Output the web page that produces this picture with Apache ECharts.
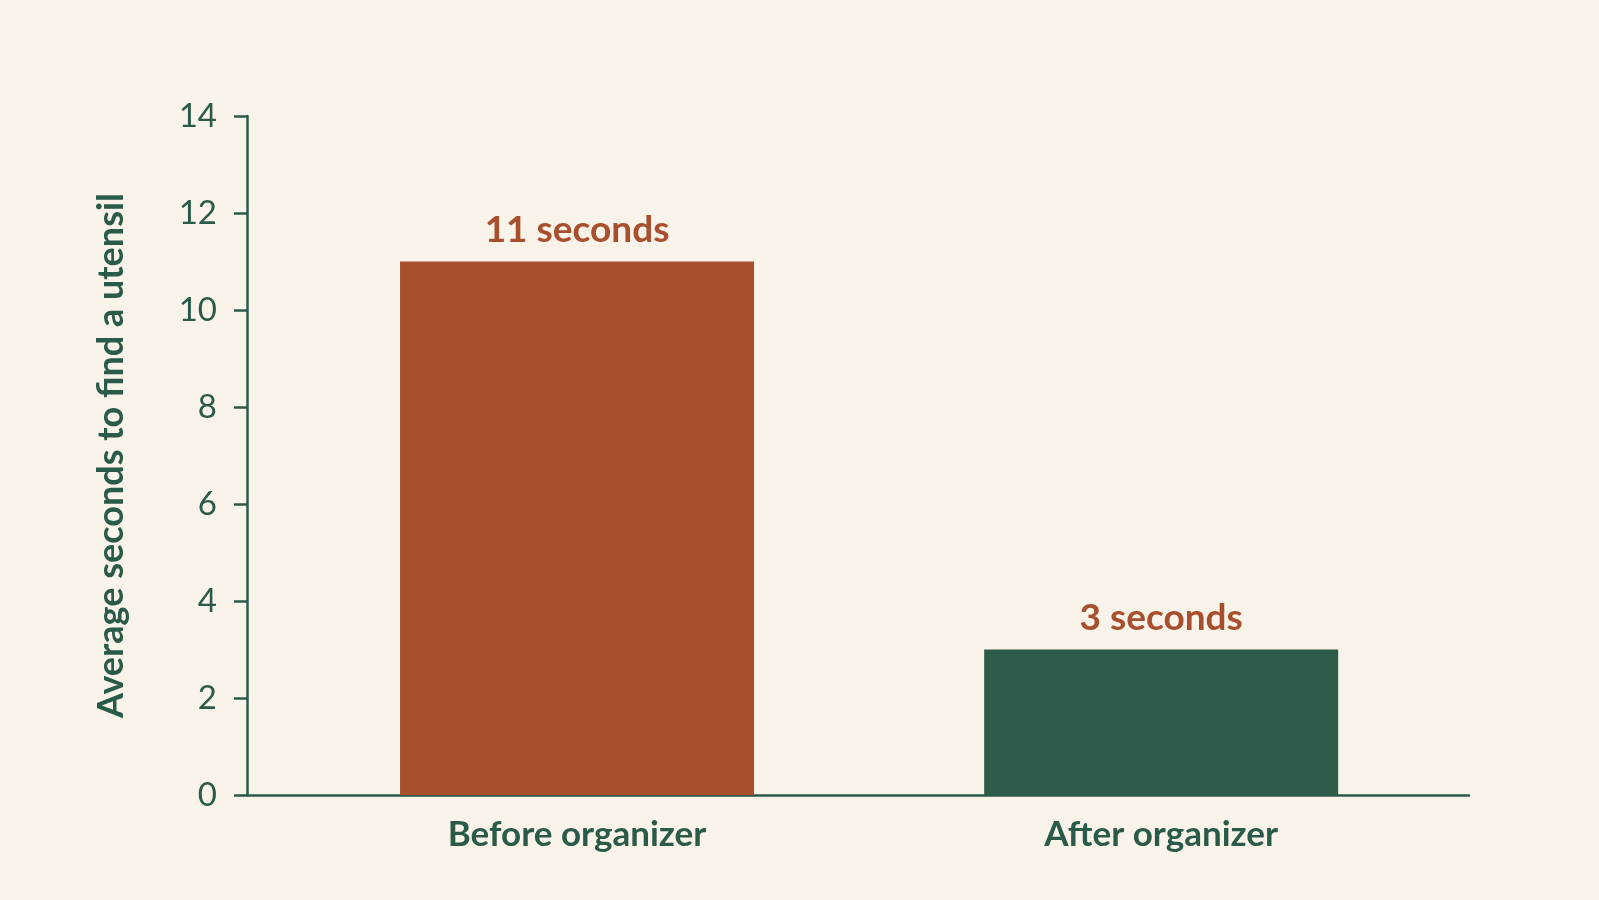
<!DOCTYPE html>
<html>
<head>
<meta charset="utf-8">
<title>Utensil search time</title>
<script src="https://cdn.jsdelivr.net/npm/echarts@6/dist/echarts.min.js"></script>
<style>
  html, body { margin: 0; padding: 0; background: #faf3ea; }
  #chart { width: 1599px; height: 900px; }
</style>
</head>
<body>
<div id="chart"></div>
<script>
// data
const categories = ['Before organizer', 'After organizer'];
const seconds = [11, 3];
const barLabels = ['11 seconds', '3 seconds'];
const barColors = ['#a84f2e', '#2f5b4b'];
const yTicks = [0, 2, 4, 6, 8, 10, 12, 14];

const green = '#2a5a48';
const rust = '#a84f2e';

const chart = echarts.init(document.getElementById('chart'));

chart.setOption({
    backgroundColor: '#faf3ea',
    animation: false,
    textStyle: { fontFamily: 'Lato' },
    grid: {
        left: 247,
        right: 130,
        top: 116,
        bottom: 105
    },
    xAxis: {
        type: 'value',
        min: -0.565,
        max: 1.527,
        splitLine: { show: false },
        axisTick: { show: false },
        axisLine: { show: true, lineStyle: { color: green, width: 2.5 } },
        axisLabel: {
            customValues: categories.map((c, i) => i),
            formatter: (v) => categories[v] || '',
            color: green,
            fontSize: 35,
            fontWeight: 'bold',
            margin: 22
        }
    },
    yAxis: {
        type: 'value',
        min: yTicks[0],
        max: yTicks[yTicks.length - 1],
        interval: 2,
        name: 'Average seconds to find a utensil',
        nameLocation: 'middle',
        nameGap: 118,
        nameTextStyle: {
            color: green,
            fontSize: 36,
            fontWeight: 'bold'
        },
        splitLine: { show: false },
        axisLine: { show: true, onZero: false, lineStyle: { color: green, width: 2.5 } },
        axisTick: { show: true, length: 13, lineStyle: { color: green, width: 2.5 } },
        axisLabel: {
            color: green,
            fontSize: 33,
            margin: 30
        }
    },
    series: [{
        type: 'bar',
        barWidth: 354,
        data: seconds.map((v, i) => ({
            value: [i, v],
            itemStyle: { color: barColors[i] },
            label: { formatter: barLabels[i] }
        })),
        label: {
            show: true,
            position: 'top',
            distance: 13,
            color: rust,
            fontSize: 37,
            fontWeight: 'bold'
        }
    }]
});
</script>
</body>
</html>
